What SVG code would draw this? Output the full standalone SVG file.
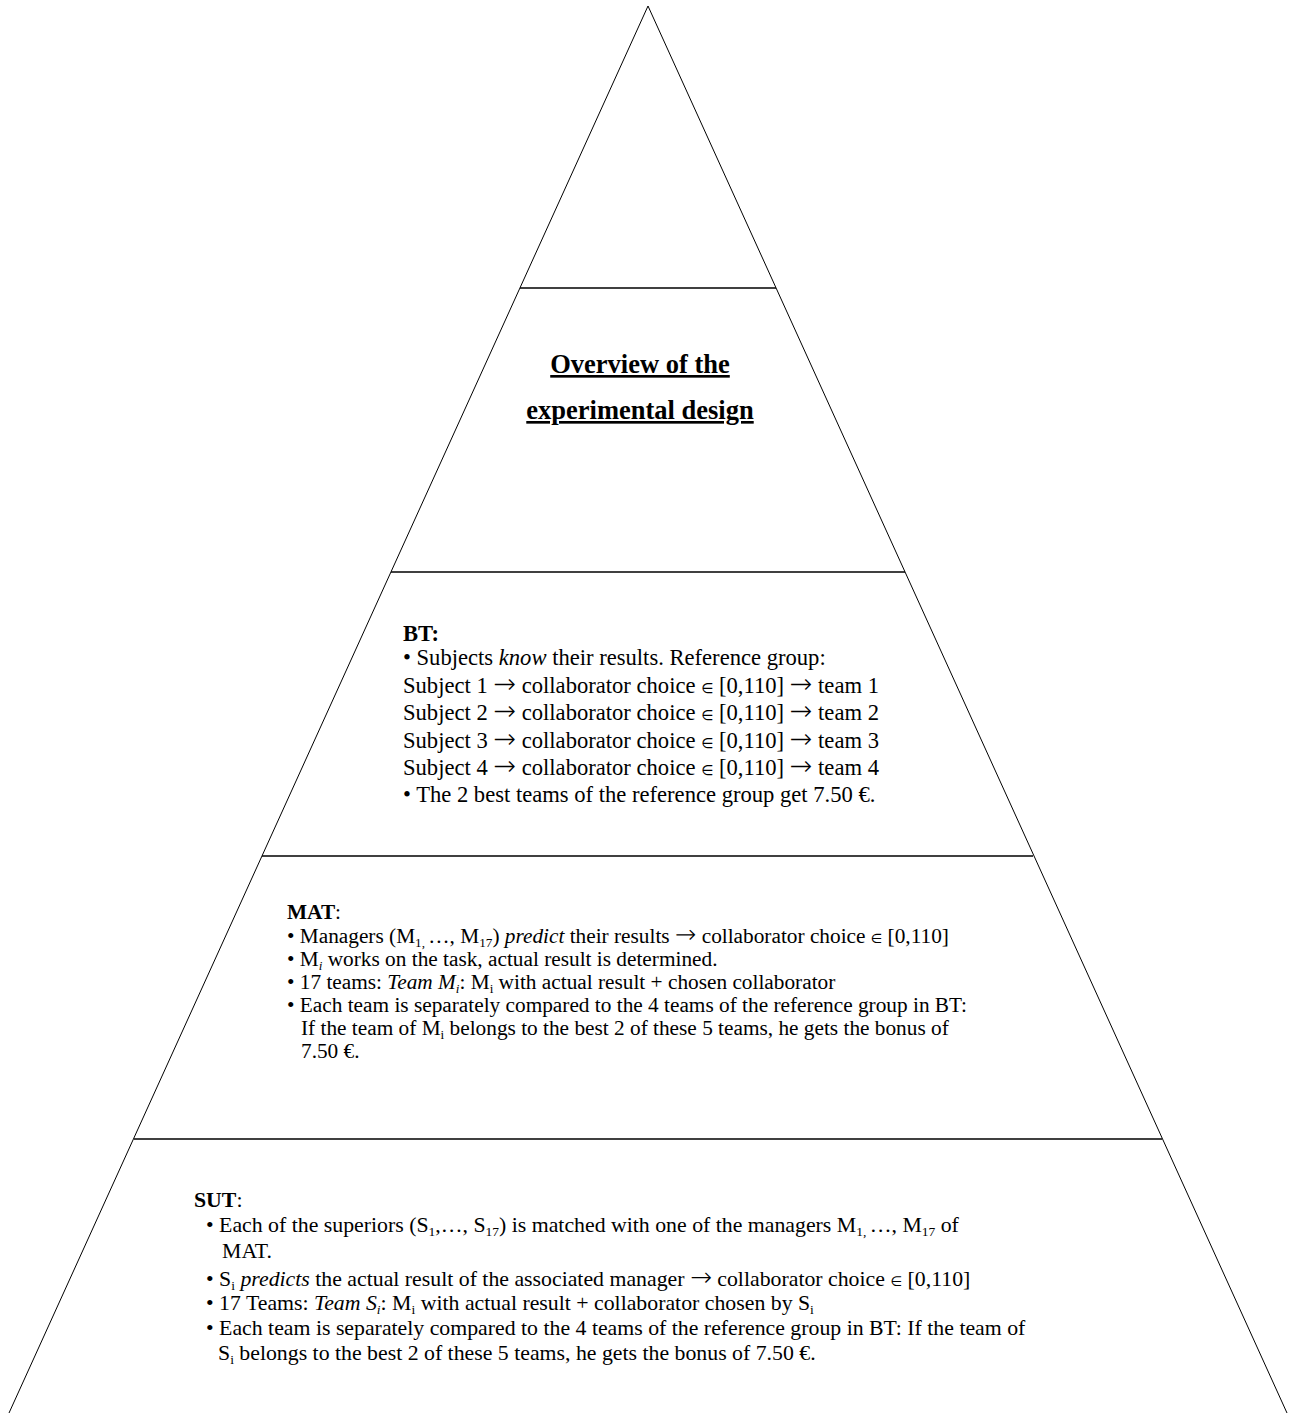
<svg xmlns="http://www.w3.org/2000/svg" width="1292" height="1415" viewBox="0 0 1292 1415">
<style>
.t{font-family:"Liberation Serif","Times New Roman",serif;fill:#000}
.bt{font-size:22.6px}
.mat{font-size:21.3px}
.sut{font-size:21.8px}
.b{font-weight:bold}
.i{font-style:italic}
.ar{font-family:"DejaVu Sans",sans-serif;font-size:1.2em;font-weight:200}
.el{font-family:"DejaVu Sans",sans-serif;font-size:0.62em}
.title{font-family:"Liberation Serif","Times New Roman",serif;font-size:26.5px;font-weight:bold;text-decoration:underline;fill:#000}
.sub{font-size:0.62em}
.edge{stroke:#000;stroke-width:1;fill:none}
.div{stroke:#000;stroke-width:1.6;fill:none}
</style>
<rect width="1292" height="1415" fill="#fff"/>
<g id="pyramid">
<path class="edge" d="M9,1413 L648,6 L1287,1413"/>
</g>
<g id="dividers">
<line class="div" x1="520" y1="288" x2="776" y2="288"/>
<line class="div" x1="391" y1="572" x2="905" y2="572"/>
<line class="div" x1="262" y1="856" x2="1033" y2="856"/>
<line class="div" x1="134" y1="1139" x2="1162" y2="1139"/>
</g>
<g id="title">
<text class="title" x="640" y="373" text-anchor="middle">Overview of the</text>
<text class="title" x="640" y="419" text-anchor="middle">experimental design</text>
</g>
<g id="bt" class="t bt">
<text x="403" y="641"><tspan class="b">BT:</tspan></text>
<text x="403" y="665">• Subjects <tspan class="i">know</tspan> their results. Reference group:</text>
<text x="403" y="693">Subject 1 <tspan class="ar">→</tspan> collaborator choice <tspan class="el">∈</tspan> [0,110] <tspan class="ar">→</tspan> team 1</text>
<text x="403" y="720">Subject 2 <tspan class="ar">→</tspan> collaborator choice <tspan class="el">∈</tspan> [0,110] <tspan class="ar">→</tspan> team 2</text>
<text x="403" y="748">Subject 3 <tspan class="ar">→</tspan> collaborator choice <tspan class="el">∈</tspan> [0,110] <tspan class="ar">→</tspan> team 3</text>
<text x="403" y="775">Subject 4 <tspan class="ar">→</tspan> collaborator choice <tspan class="el">∈</tspan> [0,110] <tspan class="ar">→</tspan> team 4</text>
<text x="403" y="802">• The 2 best teams of the reference group get 7.50 €.</text>
</g>
<g id="mat" class="t mat">
<text x="287" y="919"><tspan class="b">MAT</tspan>:</text>
<text x="287" y="943">• Managers (M<tspan class="sub" dy="4">1, </tspan><tspan dy="-4">…, M</tspan><tspan class="sub" dy="4">17</tspan><tspan dy="-4">) </tspan><tspan class="i">predict</tspan> their results <tspan class="ar">→</tspan> collaborator choice <tspan class="el">∈</tspan> [0,110]</text>
<text x="287" y="966">• M<tspan class="sub i" dy="4">i</tspan><tspan dy="-4"> works on the task, actual result is determined.</tspan></text>
<text x="287" y="989">• 17 teams: <tspan class="i">Team M</tspan><tspan class="sub i" dy="4">i</tspan><tspan dy="-4">: M</tspan><tspan class="sub" dy="4">i</tspan><tspan dy="-4"> with actual result + chosen collaborator</tspan></text>
<text x="287" y="1012">• Each team is separately compared to the 4 teams of the reference group in BT:</text>
<text x="301" y="1035">If the team of M<tspan class="sub" dy="4">i</tspan><tspan dy="-4"> belongs to the best 2 of these 5 teams, he gets the bonus of</tspan></text>
<text x="301" y="1058">7.50 €.</text>
</g>
<g id="sut" class="t sut">
<text x="194" y="1207"><tspan class="b">SUT</tspan>:</text>
<text x="206" y="1232">• Each of the superiors (S<tspan class="sub" dy="4">1</tspan><tspan dy="-4">,…, S</tspan><tspan class="sub" dy="4">17</tspan><tspan dy="-4">) is matched with one of the managers M</tspan><tspan class="sub" dy="4">1, </tspan><tspan dy="-4">…, M</tspan><tspan class="sub" dy="4">17</tspan><tspan dy="-4"> of</tspan></text>
<text x="222" y="1258">MAT.</text>
<text x="206" y="1286">• S<tspan class="sub" dy="4">i</tspan><tspan class="i" dy="-4"> predicts</tspan> the actual result of the associated manager <tspan class="ar">→</tspan> collaborator choice <tspan class="el">∈</tspan> [0,110]</text>
<text x="206" y="1310">• 17 Teams: <tspan class="i">Team S</tspan><tspan class="sub i" dy="4">i</tspan><tspan dy="-4">: M</tspan><tspan class="sub" dy="4">i</tspan><tspan dy="-4"> with actual result + collaborator chosen by S</tspan><tspan class="sub" dy="4">i</tspan></text>
<text x="206" y="1335">• Each team is separately compared to the 4 teams of the reference group in BT: If the team of</text>
<text x="218" y="1360">S<tspan class="sub" dy="4">i</tspan><tspan dy="-4"> belongs to the best 2 of these 5 teams, he gets the bonus of 7.50 €.</tspan></text>
</g>
</svg>
